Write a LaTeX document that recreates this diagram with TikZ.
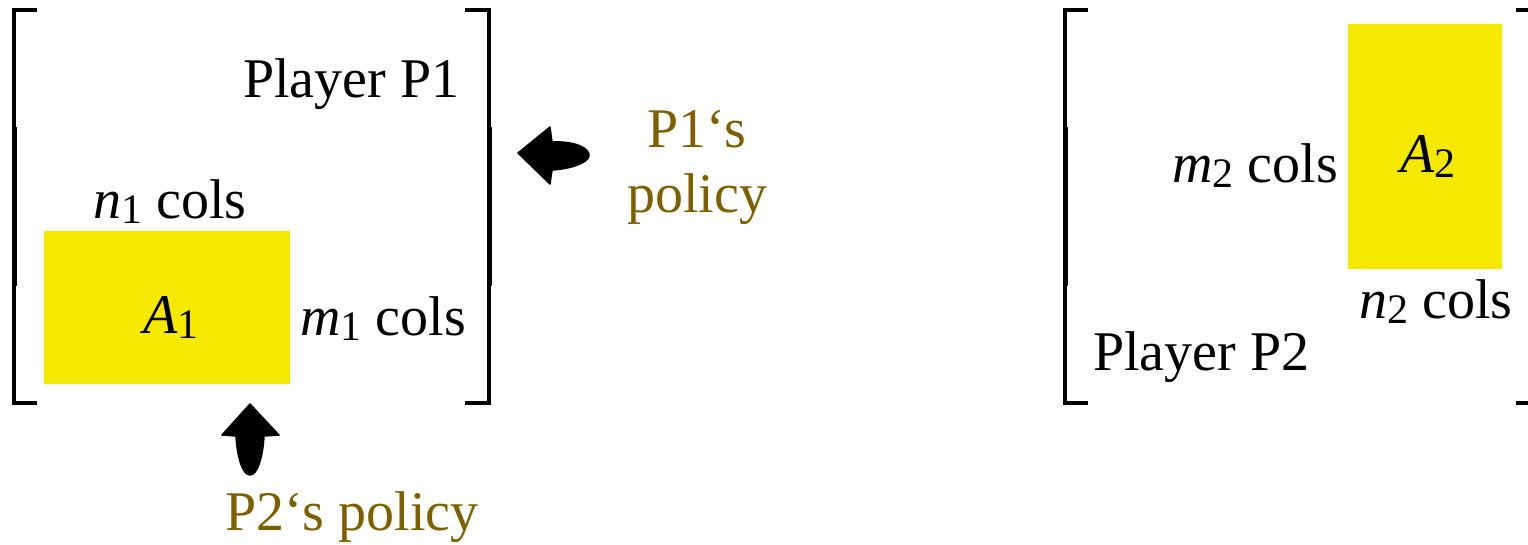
\documentclass[tikz,border=0pt]{standalone}
\usepackage{fontspec}
\setmainfont{Liberation Serif}
\definecolor{mybrown}{RGB}{127,96,0}
\definecolor{myyellow}{RGB}{245,233,0}
\newcommand{\mysub}[1]{\raisebox{-5pt}{\fontsize{42}{42}\selectfont #1}}
\tikzset{
  lbl/.style={inner sep=0pt, anchor=base west, font=\fontsize{56}{65}\selectfont},
  pol/.style={lbl, text=mybrown},
  brk/.style={line width=3.5pt, line cap=butt},
  brkmid/.style={line width=5pt},
  mat/.style={fill=myyellow, draw=none},
  blockarrow/.style={fill=black, draw=black, line width=1.5pt, line join=round}
}
\begin{document}
\begin{tikzpicture}[x=1pt,y=-1pt]
\useasboundingbox (0,0) rectangle (1528,544);
% left matrix brackets
\draw[brk] (37,10) -- (14,10) -- (14,403) -- (37,403);
\draw[brkmid] (14,127) -- (14,286);
\draw[brk] (465,10) -- (489,10) -- (489,403) -- (465,403);
\draw[brkmid] (489,127) -- (489,286);
% right matrix brackets
\draw[brk] (1088,10) -- (1065,10) -- (1065,403) -- (1088,403);
\draw[brkmid] (1065,127) -- (1065,286);
\draw[brk] (1516,10) -- (1540,10) -- (1540,403) -- (1516,403);
% yellow blocks
\path[mat] (44,231) rectangle (290,384);
\path[mat] (1348,24) rectangle (1502,269);
% labels left
\node[lbl] (p1) at (243,97) {Player P1};
\node[lbl] (n1) at (93,218) {\textit{n}\mysub{1} cols};
\node[lbl] (m1) at (300,335) {\textit{m}\mysub{1} cols};
\node[lbl] (a1) at (143,333) {\textit{A}\mysub{1}};
% labels right
\node[lbl] (a2) at (1400,172) {\textit{A}\mysub{2}};
\node[lbl] (m2) at (1172,182) {\textit{m}\mysub{2} cols};
\node[lbl] (n2) at (1359,318) {\textit{n}\mysub{2} cols};
\node[lbl] (p2) at (1093,370) {Player P2};
% policies
\node[pol, anchor=base] (p1pol) at (697,147) {P1‘s};
\node[pol, anchor=base] (p1pol2) at (697,212) {policy};
\node[pol] (p2pol) at (225,530) {P2‘s policy};
% block arrows
\filldraw[blockarrow] (518,153) -- (550,127) -- (552,142)
  .. controls (575,141) and (590,148) .. (589,156)
  .. controls (588,163) and (570,169) .. (552,170)
  -- (550,184) -- cycle;
\filldraw[blockarrow] (250,404) -- (279,435) -- (264,436)
  .. controls (263,455) and (258,475) .. (250,475)
  .. controls (242,475) and (237,455) .. (236,436)
  -- (222,435) -- cycle;
\end{tikzpicture}
\end{document}
